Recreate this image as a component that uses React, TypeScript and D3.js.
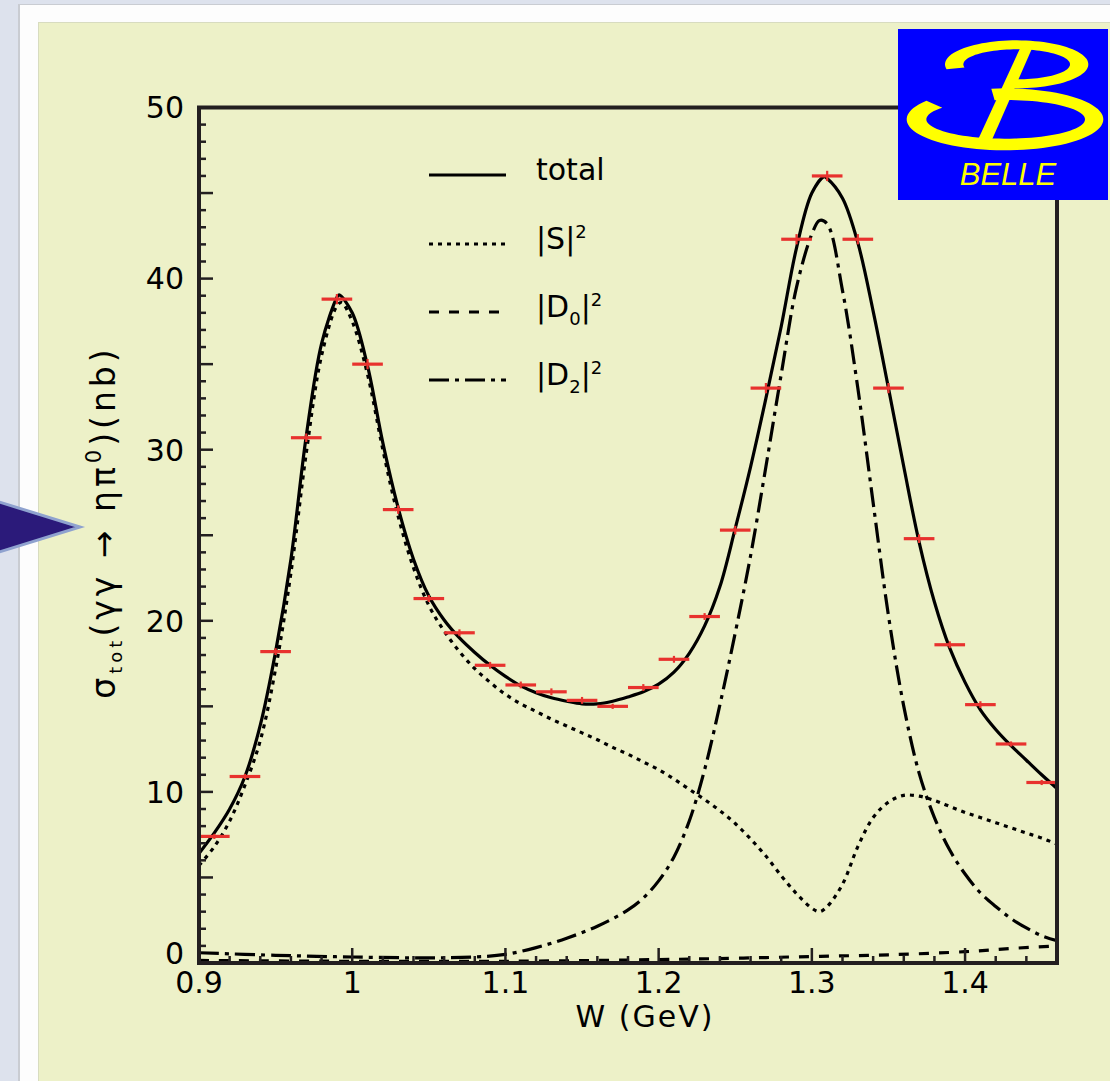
import React from "react";
import * as d3 from "d3";

// ---------- data ----------
const DATA_W = [0.91, 0.93, 0.95, 0.97, 0.99, 1.01, 1.03, 1.05, 1.07, 1.09, 1.11, 1.13, 1.15, 1.17, 1.19, 1.21, 1.23, 1.25, 1.27, 1.29, 1.31, 1.33, 1.35, 1.37, 1.39, 1.41, 1.43, 1.45];
const DATA_SIGMA = [7.4, 10.9, 18.2, 30.7, 38.8, 35.0, 26.5, 21.3, 19.3, 17.4, 16.25, 15.85, 15.35, 15.0, 16.1, 17.75, 20.25, 25.3, 33.6, 42.3, 46.0, 42.3, 33.6, 24.8, 18.6, 15.1, 12.8, 10.55];
const DATA_ERR = [0.15, 0.15, 0.2, 0.25, 0.3, 0.3, 0.25, 0.2, 0.2, 0.2, 0.2, 0.2, 0.2, 0.15, 0.2, 0.2, 0.2, 0.25, 0.3, 0.3, 0.3, 0.3, 0.3, 0.25, 0.2, 0.2, 0.15, 0.15];

const TOTAL_W = [0.90, 0.91, 0.92, 0.93, 0.94, 0.95, 0.96, 0.97, 0.98, 0.99, 0.9914, 1.00, 1.01, 1.02, 1.03, 1.04, 1.05, 1.06, 1.07, 1.08, 1.09, 1.10, 1.11, 1.12, 1.13, 1.14, 1.15, 1.16, 1.17, 1.18, 1.19, 1.20, 1.21, 1.22, 1.23, 1.24, 1.25, 1.26, 1.27, 1.28, 1.29, 1.30, 1.308, 1.31, 1.32, 1.33, 1.34, 1.35, 1.36, 1.37, 1.38, 1.39, 1.40, 1.41, 1.42, 1.43, 1.44, 1.45, 1.46];
const TOTAL_V = [6.4, 7.6, 9.0, 10.9, 13.9, 18.2, 23.6, 30.8, 36.2, 38.9, 39.05, 38.0, 34.9, 30.4, 26.6, 23.6, 21.45, 20.05, 19.0, 18.15, 17.4, 16.75, 16.2, 15.8, 15.5, 15.3, 15.15, 15.15, 15.3, 15.55, 15.85, 16.3, 17.0, 18.1, 19.7, 22.0, 25.4, 29.0, 33.0, 37.2, 41.8, 45.0, 45.95, 45.85, 44.7, 42.1, 38.1, 33.6, 29.0, 24.6, 21.1, 18.4, 16.4, 14.8, 13.65, 12.7, 11.85, 11.0, 10.2];

const S_W = [0.90, 0.91, 0.92, 0.93, 0.94, 0.95, 0.96, 0.97, 0.98, 0.99, 0.993, 1.00, 1.01, 1.02, 1.03, 1.04, 1.05, 1.06, 1.07, 1.08, 1.09, 1.10, 1.11, 1.12, 1.13, 1.14, 1.15, 1.16, 1.17, 1.18, 1.19, 1.20, 1.21, 1.22, 1.23, 1.24, 1.25, 1.26, 1.27, 1.28, 1.29, 1.30, 1.305, 1.31, 1.32, 1.33, 1.34, 1.35, 1.36, 1.37, 1.38, 1.39, 1.40, 1.41, 1.42, 1.43, 1.44, 1.45, 1.46];
const S_V = [5.7, 6.8, 8.3, 10.4, 13.0, 17.2, 22.8, 29.8, 35.5, 38.4, 38.6, 37.5, 34.4, 30.0, 26.1, 23.1, 20.9, 19.4, 18.2, 17.2, 16.4, 15.7, 15.15, 14.7, 14.25, 13.85, 13.45, 13.05, 12.6, 12.2, 11.75, 11.3, 10.75, 10.15, 9.55, 8.9, 8.15, 7.25, 6.25, 5.1, 4.05, 3.2, 3.0, 3.3, 4.6, 6.8, 8.5, 9.4, 9.8, 9.75, 9.5, 9.15, 8.8, 8.5, 8.2, 7.9, 7.6, 7.3, 6.95];

const D0_W = [0.90, 1.00, 1.10, 1.20, 1.25, 1.30, 1.35, 1.40, 1.43, 1.46];
const D0_V = [0.15, 0.1, 0.1, 0.2, 0.28, 0.38, 0.48, 0.66, 0.85, 1.0];

const D2_W = [0.90, 0.95, 1.00, 1.05, 1.08, 1.10, 1.12, 1.14, 1.16, 1.18, 1.19, 1.20, 1.21, 1.22, 1.23, 1.24, 1.25, 1.26, 1.27, 1.28, 1.29, 1.30, 1.305, 1.31, 1.32, 1.33, 1.34, 1.35, 1.36, 1.37, 1.38, 1.39, 1.40, 1.41, 1.42, 1.43, 1.44, 1.45, 1.46];
const D2_V = [0.6, 0.45, 0.35, 0.3, 0.35, 0.5, 0.9, 1.45, 2.15, 3.1, 3.8, 4.8, 6.2, 8.3, 11.3, 15.1, 19.3, 23.8, 29.0, 34.4, 39.5, 42.6, 43.4, 43.2, 39.3, 33.6, 26.9, 20.3, 15.0, 11.1, 8.5, 6.6, 5.2, 4.1, 3.3, 2.6, 2.05, 1.6, 1.3];

const X_TICKS = [0.9, 1.0, 1.1, 1.2, 1.3, 1.4];
const X_TICK_LABELS = ["0.9", "1", "1.1", "1.2", "1.3", "1.4"];
const Y_TICKS = [0, 10, 20, 30, 40, 50];
const Y_TICK_LABELS = ["0", "10", "20", "30", "40", "50"];

// ---------- layout ----------
const WIDTH = 1110;
const HEIGHT = 1081;
const PLOT = { left: 199, right: 1057, top: 107.5, bottom: 963 };
const FONT = "'DejaVu Sans', sans-serif";
const AXIS_COLOR = "#231f20";
const RED = "#e8322e";

const x = d3.scaleLinear().domain([0.9, 1.46]).range([PLOT.left, PLOT.right]);
const y = d3.scaleLinear().domain([0, 50]).range([PLOT.bottom, PLOT.top]);

const lineGen = d3
  .line<[number, number]>()
  .x((d) => x(d[0]))
  .y((d) => y(d[1]))
  .curve(d3.curveCatmullRom.alpha(0.5));

const zip = (a: number[], b: number[]) => a.map((v, i) => [v, b[i]] as [number, number]);

const STYLES = {
  total: { dash: "none" },
  s: { dash: "4 5" },
  d0: { dash: "10 10" },
  d2: { dash: "20 6 4 6" },
};

function ringArc(cx: number, cy: number, rxo: number, ryo: number, cxi: number, rxi: number, ryi: number, a0: number, a1: number) {
  const n = 80;
  const angs = d3.range(n + 1).map((i) => ((a0 + ((a1 - a0) * i) / n) * Math.PI) / 180);
  const outer = angs.map((a) => [cx + rxo * Math.cos(a), cy + ryo * Math.sin(a)]);
  const inner = angs
    .slice()
    .reverse()
    .map((a) => [cxi + rxi * Math.cos(a), cy + ryi * Math.sin(a)]);
  const pts = outer.concat(inner);
  return "M" + pts.map((p) => p[0].toFixed(1) + "," + p[1].toFixed(1)).join("L") + "Z";
}

function BelleLogo() {
  return (
    <g>
      <rect x={898} y={29} width={210} height={171} fill="#0000ff" />
      <g transform="translate(895,25) scale(0.33333)" fill="#ffff00">
        <path d={ringArc(365, 118, 215, 72, 365, 160, 45, 168, 460)} />
        <path d={ringArc(330, 283, 295, 93, 332, 238, 58, -98, 217)} />
        <polygon points="376,68 412,68 292,342 250,342" />
      </g>
      <text x={1008} y={185} fontFamily="'Liberation Sans', Arial, sans-serif" fontStyle="italic" fontSize={31} fill="#ffff00" textAnchor="middle">
        BELLE
      </text>
    </g>
  );
}

export default function App() {
  const yMinor = d3.range(0, 51, 1);
  const xMinor = d3.range(0, 29).map((i) => 0.9 + i * 0.02);
  const legend = [
    { key: "total", label: <tspan>total</tspan> },
    { key: "s", label: (<><tspan>|S|</tspan><tspan dy={-11} fontSize={18}>2</tspan></>) },
    { key: "d0", label: (<><tspan>|D</tspan><tspan dy={8} fontSize={18}>0</tspan><tspan dy={-8}>|</tspan><tspan dy={-11} fontSize={18}>2</tspan></>) },
    { key: "d2", label: (<><tspan>|D</tspan><tspan dy={8} fontSize={18}>2</tspan><tspan dy={-8}>|</tspan><tspan dy={-11} fontSize={18}>2</tspan></>) },
  ];
  const legendY = [175, 244, 312, 380];

  return (
    <svg width={WIDTH} height={HEIGHT} style={{ position: "fixed", left: 0, top: 0 }} fontFamily={FONT}>
      <defs>
        <clipPath id="plotclip">
          <rect x={PLOT.left} y={PLOT.top} width={PLOT.right - PLOT.left} height={PLOT.bottom - PLOT.top} />
        </clipPath>
      </defs>
      {/* page backgrounds */}
      <rect x={0} y={0} width={WIDTH} height={HEIGHT} fill="#dde2ed" />
      <rect x={18} y={4} width={WIDTH} height={HEIGHT} fill="#c9ccd2" />
      <rect x={20} y={5} width={WIDTH} height={HEIGHT} fill="#fdfdfd" />
      <rect x={38} y={22} width={WIDTH} height={HEIGHT} fill="#d8dcc0" />
      <rect x={39} y={23} width={WIDTH} height={HEIGHT} fill="#edf1c8" />

      {/* arrow pointer */}
      <polygon points="-30,493 80,527 -30,561" fill="#2b1a7a" stroke="#8fa2cf" strokeWidth={3} strokeLinejoin="miter" />

      {/* curves */}
      <g clipPath="url(#plotclip)" fill="none" stroke="#000" strokeWidth={3.2}>
        <path d={lineGen(zip(D0_W, D0_V)) || ""} strokeDasharray={STYLES.d0.dash} />
        <path d={lineGen(zip(D2_W, D2_V)) || ""} strokeDasharray={STYLES.d2.dash} />
        <path d={lineGen(zip(S_W, S_V)) || ""} strokeDasharray={STYLES.s.dash} />
        <path d={lineGen(zip(TOTAL_W, TOTAL_V)) || ""} />
      </g>

      {/* data points */}
      <g stroke={RED} fill="none">
        {DATA_W.map((w, i) => (
          <g key={i}>
            <line x1={x(w - 0.01)} x2={x(w + 0.01)} y1={y(DATA_SIGMA[i])} y2={y(DATA_SIGMA[i])} strokeWidth={3.2} />
            <line x1={x(w)} x2={x(w)} y1={y(DATA_SIGMA[i] - DATA_ERR[i])} y2={y(DATA_SIGMA[i] + DATA_ERR[i])} strokeWidth={2.2} />
          </g>
        ))}
      </g>

      {/* frame */}
      <rect x={PLOT.left} y={PLOT.top} width={PLOT.right - PLOT.left} height={PLOT.bottom - PLOT.top} fill="none" stroke={AXIS_COLOR} strokeWidth={4} />

      {/* ticks */}
      <g stroke={AXIS_COLOR} strokeWidth={2.5}>
        {yMinor.map((v) => (
          <line key={v} x1={PLOT.left} x2={PLOT.left + (v % 5 === 0 ? 14 : 7)} y1={y(v)} y2={y(v)} />
        ))}
        {xMinor.map((w, i) => (
          <line key={i} x1={x(w)} x2={x(w)} y1={PLOT.bottom} y2={PLOT.bottom - (i % 5 === 0 ? 15 : 7)} />
        ))}
      </g>

      {/* tick labels */}
      <g fontSize={30} fill="#000">
        {Y_TICKS.map((v, i) => (
          <text key={v} x={184} y={y(v) + (v === 0 ? -10 : 0)} dy="0.36em" textAnchor="end">
            {Y_TICK_LABELS[i]}
          </text>
        ))}
        {X_TICKS.map((w, i) => (
          <text key={w} x={x(w)} y={993} textAnchor="middle">
            {X_TICK_LABELS[i]}
          </text>
        ))}
      </g>

      {/* axis titles */}
      <text x={645} y={1027} fontSize={30} textAnchor="middle" letterSpacing={2}>
        W (GeV)
      </text>
      <text transform="translate(115,522) rotate(-90)" fontSize={33} textAnchor="middle" letterSpacing={4}>
        <tspan>σ</tspan>
        <tspan dy={7} fontSize={18}>tot</tspan>
        <tspan dy={-7}>(γγ  →  ηπ</tspan>
        <tspan dy={-14} fontSize={21}>0</tspan>
        <tspan dy={14}>)(nb)</tspan>
      </text>

      {/* legend */}
      {legend.map((l, i) => (
        <g key={l.key}>
          <line x1={429} x2={506} y1={legendY[i]} y2={legendY[i]} stroke="#000" strokeWidth={3.2} strokeDasharray={STYLES[l.key as keyof typeof STYLES].dash} />
          <text x={536} y={legendY[i] + 5} fontSize={30}>
            {l.label}
          </text>
        </g>
      ))}

      <BelleLogo />
    </svg>
  );
}
